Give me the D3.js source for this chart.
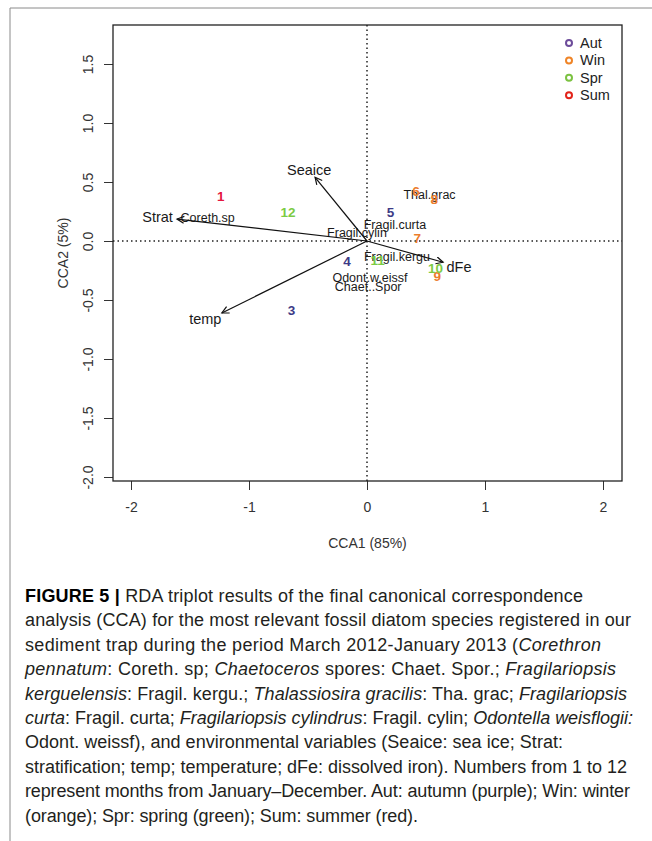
<!DOCTYPE html>
<html>
<head>
<meta charset="utf-8">
<script src="https://cdn.jsdelivr.net/npm/d3@7"></script>
<style>
body { margin: 0; background: #fff; }
text { font-family: "Liberation Sans", Arial, sans-serif; }
</style>
</head>
<body>
<div id="fig"></div>
<script>
// month scores (sites)
var months = ["1", "3", "4", "5", "6", "7", "8", "9", "10", "11", "12"];
var monthX = [-1.24, -0.64, -0.17, 0.20, 0.415, 0.425, 0.57, 0.595, 0.58, 0.09, -0.67];
var monthY = [0.375, -0.585, -0.175, 0.24, 0.418, 0.025, 0.35, -0.30, -0.23, -0.16, 0.245];
var monthSeason = ["Sum", "Aut", "Aut", "Aut", "Win", "Win", "Win", "Win", "Spr", "Spr", "Spr"];

// species scores
var species = ["Coreth.sp", "Fragil.cylin", "Fragil.curta", "Fragil.kergu", "Odont.w.eissf", "Chaet..Spor", "Thal.grac"];
var speciesX = [-1.35, -0.085, 0.237, 0.254, 0.025, 0.01, 0.53];
var speciesY = [0.195, 0.068, 0.136, -0.136, -0.31, -0.39, 0.39];

// environmental vectors and where their labels sit
var envVars = ["Seaice", "Strat", "temp", "dFe"];
var envX = [-0.44, -1.61, -1.23, 0.645];
var envY = [0.54, 0.186, -0.61, -0.18];
var envLabelX = [-0.49, -1.775, -1.37, 0.78];
var envLabelY = [0.60, 0.203, -0.66, -0.22];

var seasons = ["Aut", "Win", "Spr", "Sum"];
var legendColors = ["#6d4c9a", "#ef8427", "#7cc242", "#e2231a"];
var textColors = ["#3d3a86", "#ec7c2c", "#7ccb45", "#e5173f"];

var xTicks = [-2, -1, 0, 1, 2];
var yTicks = [-2, -1.5, -1, -0.5, 0, 0.5, 1, 1.5];

var W = 652, H = 841;
var box = {left: 113, right: 622, top: 25, bottom: 481};

var svg = d3.select("#fig").append("svg")
    .attr("width", W)
    .attr("height", H);

svg.append("rect").attr("width", W).attr("height", H).attr("fill", "#fff");

// page frame
svg.append("path")
    .attr("d", "M10," + H + "V8H" + W)
    .attr("fill", "none")
    .attr("stroke", "#8a8a8a")
    .attr("stroke-width", 1);

var x = d3.scaleLinear().domain([-2, 2]).range([131, 603]);
var y = d3.scaleLinear().domain([-2, 1.5]).range([477, 64]);

var season = d3.scaleOrdinal().domain(seasons).range(textColors);

// R prints a plain hyphen for negatives
var rLocale = d3.formatLocale({decimal: ".", thousands: ",", grouping: [3], currency: ["", ""], minus: "-"});

// axes
var xAxis = svg.append("g")
    .attr("transform", "translate(0," + box.bottom + ")")
    .call(d3.axisBottom(x).tickValues(xTicks).tickSize(9).tickPadding(12).tickFormat(rLocale.format("d")));
xAxis.select(".domain").remove();
xAxis.selectAll("text").attr("font-size", 14).attr("fill", "#333").style("font-family", "Liberation Sans, Arial, sans-serif");
xAxis.selectAll("line").attr("stroke", "#333");

var yAxis = svg.append("g")
    .attr("transform", "translate(" + box.left + ",0)")
    .call(d3.axisLeft(y).tickValues(yTicks).tickSize(9).tickFormat(rLocale.format(".1f")));
yAxis.select(".domain").remove();
yAxis.selectAll("line").attr("stroke", "#333");
yAxis.selectAll("text")
    .attr("x", null)
    .attr("dy", "0.35em")
    .attr("text-anchor", "middle")
    .attr("transform", "translate(-25,0) rotate(-90)")
    .attr("font-size", 14)
    .attr("fill", "#333")
    .style("font-family", "Liberation Sans, Arial, sans-serif");

svg.append("rect")
    .attr("x", box.left).attr("y", box.top)
    .attr("width", box.right - box.left).attr("height", box.bottom - box.top)
    .attr("fill", "none").attr("stroke", "#222").attr("stroke-width", 1.3);

svg.append("text")
    .attr("x", (box.left + box.right) / 2).attr("y", 543)
    .attr("dy", "0.35em").attr("text-anchor", "middle")
    .attr("font-size", 14).attr("fill", "#333")
    .text("CCA1 (85%)");

svg.append("text")
    .attr("transform", "translate(63," + (box.top + box.bottom) / 2 + ") rotate(-90)")
    .attr("dy", "0.35em").attr("text-anchor", "middle")
    .attr("font-size", 14).attr("fill", "#333")
    .text("CCA2 (5%)");

// zero lines
svg.append("line")
    .attr("x1", x(0)).attr("x2", x(0)).attr("y1", box.top).attr("y2", box.bottom)
    .attr("stroke", "#222").attr("stroke-width", 1.5).attr("stroke-dasharray", "1.5,3");
svg.append("line")
    .attr("x1", box.left).attr("x2", box.right).attr("y1", y(0)).attr("y2", y(0))
    .attr("stroke", "#222").attr("stroke-width", 1.5).attr("stroke-dasharray", "1.5,3");

// species
svg.selectAll(".sp")
    .data(species)
    .enter().append("text")
    .attr("class", "sp")
    .attr("x", function(d, i) { return x(speciesX[i]); })
    .attr("y", function(d, i) { return y(speciesY[i]); })
    .attr("dy", "0.35em")
    .attr("text-anchor", "middle")
    .attr("font-size", 12.5)
    .attr("fill", "#1a1a1a")
    .text(d => d);

// months
svg.selectAll(".mo")
    .data(months)
    .enter().append("text")
    .attr("class", "mo")
    .attr("x", function(d, i) { return x(monthX[i]); })
    .attr("y", function(d, i) { return y(monthY[i]); })
    .attr("dy", "0.35em")
    .attr("text-anchor", "middle")
    .attr("font-size", 13.5)
    .attr("font-weight", "bold")
    .attr("fill", function(d, i) { return season(monthSeason[i]); })
    .text(d => d);

// arrows
svg.append("defs").append("marker")
    .attr("id", "head")
    .attr("markerUnits", "userSpaceOnUse")
    .attr("markerWidth", 12).attr("markerHeight", 12)
    .attr("refX", 8).attr("refY", 4)
    .attr("orient", "auto")
    .append("path")
    .attr("d", "M1,0.5L8,4L1,7.5")
    .attr("fill", "none")
    .attr("stroke", "#111")
    .attr("stroke-width", 1.2);

svg.selectAll(".arrow")
    .data(envVars)
    .enter().append("line")
    .attr("class", "arrow")
    .attr("x1", x(0)).attr("y1", y(0))
    .attr("x2", function(d, i) { return x(envX[i]); })
    .attr("y2", function(d, i) { return y(envY[i]); })
    .attr("stroke", "#111")
    .attr("stroke-width", 1.2)
    .attr("marker-end", "url(#head)");

svg.selectAll(".env")
    .data(envVars)
    .enter().append("text")
    .attr("class", "env")
    .attr("x", function(d, i) { return x(envLabelX[i]); })
    .attr("y", function(d, i) { return y(envLabelY[i]); })
    .attr("dy", "0.35em")
    .attr("text-anchor", "middle")
    .attr("font-size", 14.5)
    .attr("fill", "#1a1a1a")
    .text(d => d);

// legend
var leg = svg.selectAll(".leg")
    .data(seasons)
    .enter().append("g")
    .attr("class", "leg")
    .attr("transform", function(d, i) { return "translate(569," + (43 + i * 17.4) + ")"; });
leg.append("circle")
    .attr("r", 3)
    .attr("fill", "none")
    .attr("stroke", function(d, i) { return legendColors[i]; })
    .attr("stroke-width", 2);
leg.append("text")
    .attr("x", 11)
    .attr("dy", "0.35em")
    .attr("font-size", 14.5)
    .attr("fill", "#222")
    .text(d => d);

// caption
var caption = [
    [["b", "FIGURE 5 |"], ["n", " RDA triplot results of the final canonical correspondence"]],
    [["n", "analysis (CCA) for the most relevant fossil diatom species registered in our"]],
    [["n", "sediment trap during the period March 2012-January 2013 ("], ["i", "Corethron"]],
    [["i", "pennatum"], ["n", ": Coreth. sp; "], ["i", "Chaetoceros"], ["n", " spores: Chaet. Spor.; "], ["i", "Fragilariopsis"]],
    [["i", "kerguelensis"], ["n", ": Fragil. kergu.; "], ["i", "Thalassiosira gracilis"], ["n", ": Tha. grac; "], ["i", "Fragilariopsis"]],
    [["i", "curta"], ["n", ": Fragil. curta; "], ["i", "Fragilariopsis cylindrus"], ["n", ": Fragil. cylin; "], ["i", "Odontella weisflogii:"]],
    [["n", "Odont. weissf), and environmental variables (Seaice: sea ice; Strat:"]],
    [["n", "stratification; temp; temperature; dFe: dissolved iron). Numbers from 1 to 12"]],
    [["n", "represent months from January\u2013December. Aut: autumn (purple); Win: winter"]],
    [["n", "(orange); Spr: spring (green); Sum: summer (red)."]]
];
var captionWidth = [558, 606, 576, 591, 602, 608, 538, 602, 605, 393];

var capLines = svg.selectAll(".cap")
    .data(caption)
    .enter().append("text")
    .attr("class", "cap")
    .attr("x", 25)
    .attr("y", function(d, i) { return 602 + i * 24.4; })
    .attr("font-size", 18)
    .attr("fill", "#231f20")
    .attr("textLength", function(d, i) { return captionWidth[i]; })
    .attr("lengthAdjust", "spacing")
    .style("white-space", "pre");

capLines.selectAll("tspan")
    .data(d => d)
    .enter().append("tspan")
    .attr("font-weight", d => d[0] == "b" ? "bold" : null)
    .attr("font-style", d => d[0] == "i" ? "italic" : null)
    .attr("fill", d => d[0] == "b" ? "#000" : null)
    .text(d => d[1]);
</script>
</body>
</html>
